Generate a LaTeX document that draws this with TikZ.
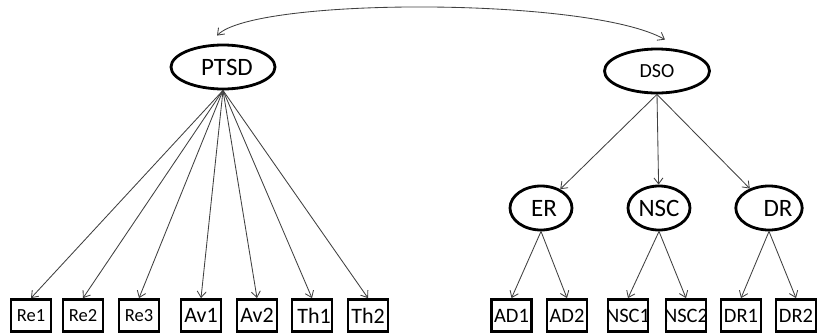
\documentclass[tikz,border=0pt]{standalone}
\usepackage{fontspec}
\setmainfont{Carlito}
\usetikzlibrary{arrows.meta}
\usetikzlibrary{shapes}

\newcommand{\lbl}[1]{\makebox[34pt]{#1}}

\begin{document}
\begin{tikzpicture}[x=1pt,y=-1pt]
  \tikzset{
    latent/.style={
      draw,
      ellipse,
      line width=2.8pt,
      minimum width=62pt,
      minimum height=44pt,
      inner sep=0pt,
      font=\fontsize{25}{27}\selectfont
    },
    item/.style={
      draw,
      rectangle,
      line width=2.8pt,
      minimum width=40pt,
      minimum height=32pt,
      inner sep=0pt,
      font=\fontsize{20.5}{22}\selectfont
    },
    path/.style={
      draw=black!75,
      line width=0.85pt,
      -{Straight Barb[length=6pt, width=9pt]}
    }
  }
  \useasboundingbox (0,0) rectangle (818,335);

  % Latent factors
  \node[latent, minimum width=104pt] (ptsd) at (223,67) {\hspace*{8pt}PTSD};
  \node[latent, minimum width=105pt, font=\fontsize{20}{22}\selectfont] (dso) at (657,71) {DSO};
  \node[latent] (er) at (541,208) {\hspace*{6pt}ER};
  \node[latent] (nsc) at (659,208) {NSC};
  \node[latent] (dr) at (769,208) {\hspace*{18pt}DR};

  % PTSD indicators
  \node[item, font=\fontsize{18.5}{20}\selectfont] (re1) at (31,315.5) {\lbl{Re1}};
  \node[item, font=\fontsize{18.5}{20}\selectfont] (re2) at (83,315.5) {\lbl{Re2}};
  \node[item, font=\fontsize{18.5}{20}\selectfont] (re3) at (139,315.5) {\lbl{Re3}};
  \node[item, font=\fontsize{22}{24}\selectfont] (av1) at (201,315.5) {\lbl{Av1}};
  \node[item, font=\fontsize{22}{24}\selectfont] (av2) at (257,315.5) {\lbl{Av2}};
  \node[item, font=\fontsize{22}{24}\selectfont] (th1) at (312,315.5) {\lbl{\hspace*{4pt}Th1}};
  \node[item, font=\fontsize{22}{24}\selectfont] (th2) at (368,315.5) {\lbl{Th2}};

  % DSO indicators
  \node[item] (ad1) at (511.5,315.5) {\lbl{AD1}};
  \node[item] (ad2) at (567,315.5) {\lbl{AD2}};
  \node[item] (nsc1) at (628,315.5) {\lbl{NSC1}};
  \node[item] (nsc2) at (686,315.5) {\lbl{NSC2}};
  \node[item] (dr1) at (741,315.5) {\lbl{DR1}};
  \node[item] (dr2) at (796,315.5) {\lbl{DR2}};

  % Loadings
  \foreach \i in {re1,re2,re3,av1,av2,th1,th2}
    \draw[path] (ptsd.south) -- (\i.north);
  \foreach \i in {er,nsc,dr}
    \draw[path] (dso.south) -- (\i);
  \draw[path] (er.south) -- (ad1.north);
  \draw[path] (er.south) -- (ad2.north);
  \draw[path] (nsc.south) -- (nsc1.north);
  \draw[path] (nsc.south) -- (nsc2.north);
  \draw[path] (dr.south) -- (dr1.north);
  \draw[path] (dr.south) -- (dr2.north);

  % Correlation
  \draw[path, {Straight Barb[length=6pt, width=9pt]}-{Straight Barb[length=6pt, width=9pt]}]
    ([shift={(-6pt,8pt)}]ptsd.north) .. controls (255,-3) and (590,-3) .. ([shift={(8pt,8pt)}]dso.north);
\end{tikzpicture}
\end{document}
